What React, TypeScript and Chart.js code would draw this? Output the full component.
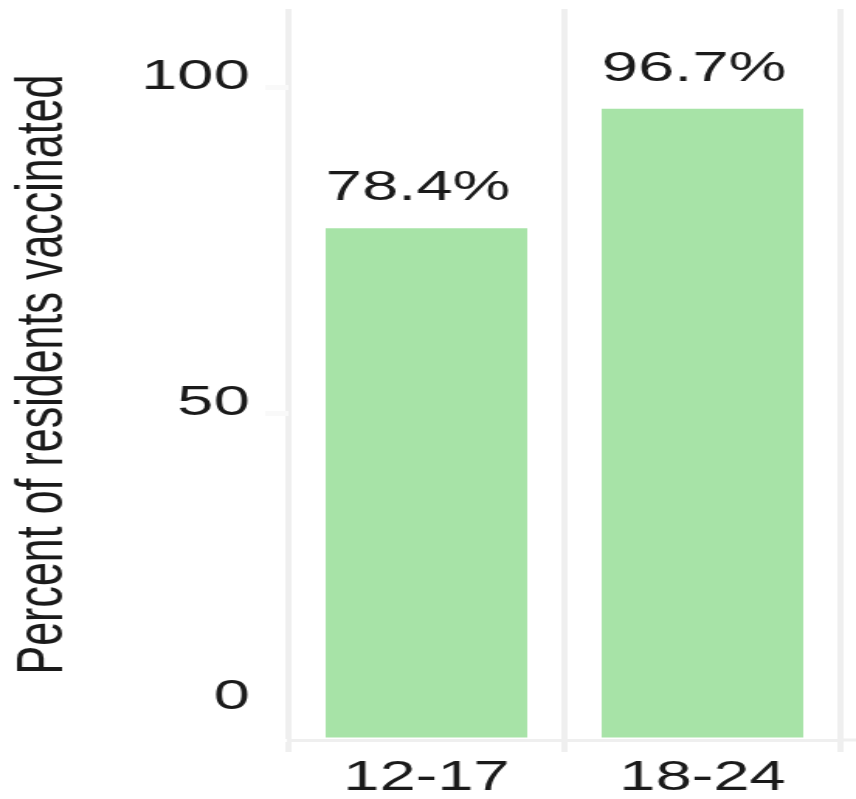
import React, { useEffect, useRef } from 'react';
import { Chart, registerables } from 'chart.js';

Chart.register(...registerables);

// ---- data ----
const ageGroups = ['12-17', '18-24'];
const percentVaccinated = [78.4, 96.7];
const yTickValues = [0, 50, 100];
const yTickLabels = ['0', '50', '100'];
const yAxisTitle = 'Percent of residents vaccinated';

// ---- look ----
const OUT_W = 856;
const OUT_H = 799;
const STRETCH = 1.55;
const CANVAS_W = Math.round(OUT_W / STRETCH);
const FONT = '"Liberation Sans", Arial, Helvetica, sans-serif';
const TEXT = '#1a1a1a';
const GRID = '#efefef';
const BAR = '#a7e3a7';

const overlay = {
  id: 'overlay',
  afterDatasetsDraw(chart: any) {
    const { ctx, chartArea, scales } = chart;
    const y = scales.y;
    ctx.save();
    ctx.font = `42px ${FONT}`;
    ctx.fillStyle = TEXT;
    // y tick labels (bottom label flushed upward)
    ctx.textAlign = 'right';
    ctx.textBaseline = 'middle';
    yTickValues.forEach((v, i) => {
      const py = y.getPixelForValue(v);
      const shift = v === yTickValues[0] ? -43 : -10;
      ctx.fillText(yTickLabels[i], chartArea.left - 25, py + shift);
    });
    // value labels above bars
    const meta = chart.getDatasetMeta(0);
    ctx.textAlign = 'left';
    ctx.textBaseline = 'alphabetic';
    meta.data.forEach((bar: any, i: number) => {
      const p = bar.getProps(['x', 'y', 'width'], true);
      ctx.fillText(`${percentVaccinated[i].toFixed(1)}%`, p.x - p.width / 2, p.y - 28);
    });
    // axis line continues to the right edge
    ctx.strokeStyle = GRID;
    ctx.lineWidth = 3;
    ctx.beginPath();
    ctx.moveTo(chartArea.right, chartArea.bottom);
    ctx.lineTo(chart.width, chartArea.bottom);
    ctx.stroke();
    ctx.restore();
  },
};

export default function App() {
  const ref = useRef<HTMLCanvasElement>(null);

  useEffect(() => {
    const canvas = ref.current;
    if (!canvas) return;
    const chart = new Chart(canvas, {
      type: 'bar',
      data: {
        labels: ageGroups,
        datasets: [
          {
            data: percentVaccinated,
            backgroundColor: BAR,
            borderWidth: 0,
            barPercentage: 0.73,
            categoryPercentage: 1,
          },
        ],
      },
      options: {
        responsive: false,
        animation: false,
        devicePixelRatio: 1,
        layout: { padding: { top: 9, right: 10, left: 0, bottom: 0 } },
        plugins: {
          legend: { display: false },
          tooltip: { enabled: false },
        },
        scales: {
          x: {
            offset: true,
            grid: {
              offset: true,
              color: GRID,
              lineWidth: 4,
              drawTicks: true,
              tickLength: 12,
            },
            border: { display: true, color: GRID, width: 3 },
            ticks: {
              color: TEXT,
              font: { family: FONT, size: 42 },
              padding: 1,
              maxRotation: 0,
              autoSkip: false,
            },
            afterFit: (scale: any) => {
              scale.height = 59;
            },
          },
          y: {
            min: 0,
            max: 112,
            afterBuildTicks: (scale: any) => {
              scale.ticks = yTickValues.map((v) => ({ value: v }));
            },
            grid: {
              drawOnChartArea: false,
              drawTicks: true,
              tickLength: 15,
              color: '#f9f9f9',
              tickColor: (c: any) => (c.tick && c.tick.value === 0 ? 'rgba(0,0,0,0)' : '#f9f9f9'),
              lineWidth: 5,
            },
            border: { display: false },
            ticks: { display: false },
            title: {
              display: true,
              text: yAxisTitle,
              color: TEXT,
              font: { family: FONT, size: 43 },
              padding: { top: 2.5, bottom: 0 },
            },
            afterFit: (scale: any) => {
              scale.width = 186;
            },
          },
        },
      },
      plugins: [overlay],
    });
    return () => chart.destroy();
  }, []);

  return (
    <div
      style={{
        position: 'absolute',
        left: 0,
        top: 0,
        width: OUT_W,
        height: OUT_H,
        background: '#fff',
        overflow: 'hidden',
      }}
    >
      <canvas
        ref={ref}
        width={CANVAS_W}
        height={OUT_H}
        style={{ width: `${OUT_W}px`, height: `${OUT_H}px`, display: 'block' }}
      />
    </div>
  );
}
